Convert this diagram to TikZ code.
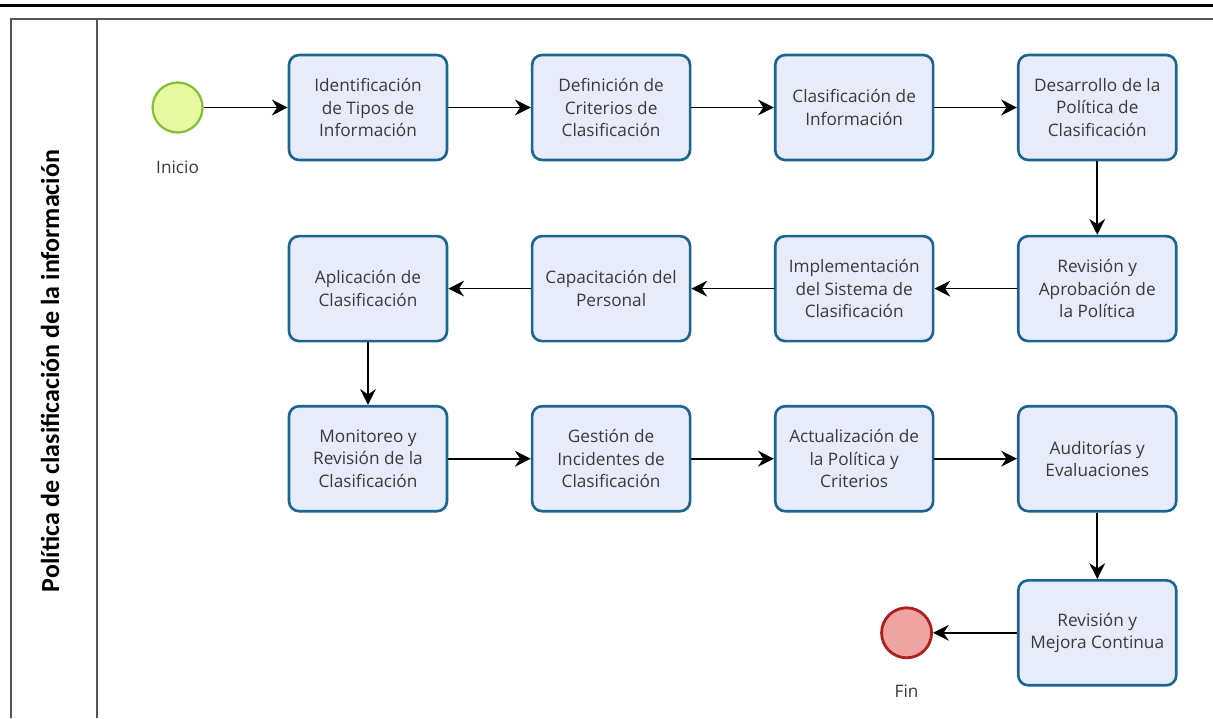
\documentclass[tikz,border=0pt]{standalone}
\usepackage{fontspec}
\setmainfont{Open Sans}
\newfontfamily\lanefont{Carlito}
\usetikzlibrary{positioning,arrows.meta}

\definecolor{taskfill}{HTML}{E8ECFA}
\definecolor{taskdraw}{HTML}{1B6690}
\definecolor{startfill}{HTML}{E6F8A0}
\definecolor{startdraw}{HTML}{86C03A}
\definecolor{endfill}{HTML}{EFA3A3}
\definecolor{enddraw}{HTML}{AE1F1F}
\definecolor{textgray}{HTML}{3A3A3A}
\definecolor{lanegray}{HTML}{555555}

\begin{document}
\begin{tikzpicture}[x=0.02cm, y=-0.02cm, node distance=1.65cm, auto,
    task/.style={draw=taskdraw, fill=taskfill, line width=1.5pt, rounded corners=0.2cm,
      minimum width=3.16cm, minimum height=2.1cm, align=center, text=textgray,
      font=\fontsize{9.8}{12.75}\selectfont},
    startev/.style={circle, draw=startdraw, fill=startfill, line width=1.3pt, minimum size=1cm, inner sep=0pt},
    endev/.style={circle, draw=enddraw, fill=endfill, line width=1.6pt, minimum size=1cm, inner sep=0pt},
    evlabel/.style={text=textgray, font=\fontsize{9.8}{12.75}\selectfont},
    flow/.style={-{Stealth[length=9pt, width=9pt, inset=3pt]}, line width=0.95pt}]
        \useasboundingbox (0,0) rectangle (1213,718);

        % Pool frame and lane header
        \draw[line width=1.7pt] (0,5) -- (1213,5);
        \draw[lanegray, line width=1.1pt] (11,718) -- (11,19) -- (1213,19);
        \draw[lanegray, line width=1.1pt] (97,19) -- (97,718);
        \node (lane) [rotate=90, font=\lanefont\bfseries\fontsize{14.8}{16}\selectfont] at (50,371)
        {Política de clasificación de la información};

        % First row
        \node (ident) [task] at (368,107.5) {Identificación\\de Tipos de\\Información};
        \node (defin) [task, right=of ident] {Definición de\\Criterios de\\Clasificación};
        \node (clasif) [task, right=of defin] {Clasificación de\\Información};
        \node (desarr) [task, right=of clasif] {Desarrollo de la\\Política de\\Clasificación};
        \node (inicio) [startev, left=1.68cm of ident] {};
        \node (inicioL) [evlabel, below=0.42cm of inicio] {Inicio};

        % Second row (right to left)
        \node (revapr) [task, below=1.47cm of desarr] {Revisión y\\Aprobación de\\la Política};
        \node (implem) [task, left=of revapr] {Implementación\\del Sistema de\\Clasificación};
        \node (capac) [task, left=of implem] {Capacitación del\\Personal};
        \node (aplic) [task, left=of capac] {Aplicación de\\Clasificación};

        % Third row
        \node (monit) [task, below=1.25cm of aplic] {Monitoreo y\\Revisión de la\\Clasificación};
        \node (gestion) [task, right=of monit] {Gestión de\\Incidentes de\\Clasificación};
        \node (actual) [task, right=of gestion] {Actualización de\\la Política y\\Criterios};
        \node (audit) [task, right=of actual] {Auditorías y\\Evaluaciones};

        % Last step and end event
        \node (mejora) [task, below=1.33cm of audit] {Revisión y\\Mejora Continua};
        \node (fin) [endev, left=1.68cm of mejora] {};
        \node (finL) [evlabel, below=0.38cm of fin] {Fin};

        % Sequence flows
        \draw[flow] (inicio) -- (ident);
        \draw[flow] (ident) -- (defin);
        \draw[flow] (defin) -- (clasif);
        \draw[flow] (clasif) -- (desarr);
        \draw[flow] (desarr) -- (revapr);
        \draw[flow] (revapr) -- (implem);
        \draw[flow] (implem) -- (capac);
        \draw[flow] (capac) -- (aplic);
        \draw[flow] (aplic) -- (monit);
        \draw[flow] (monit) -- (gestion);
        \draw[flow] (gestion) -- (actual);
        \draw[flow] (actual) -- (audit);
        \draw[flow] (audit) -- (mejora);
        \draw[flow] (mejora) -- (fin);
      \end{tikzpicture}
\end{document}
